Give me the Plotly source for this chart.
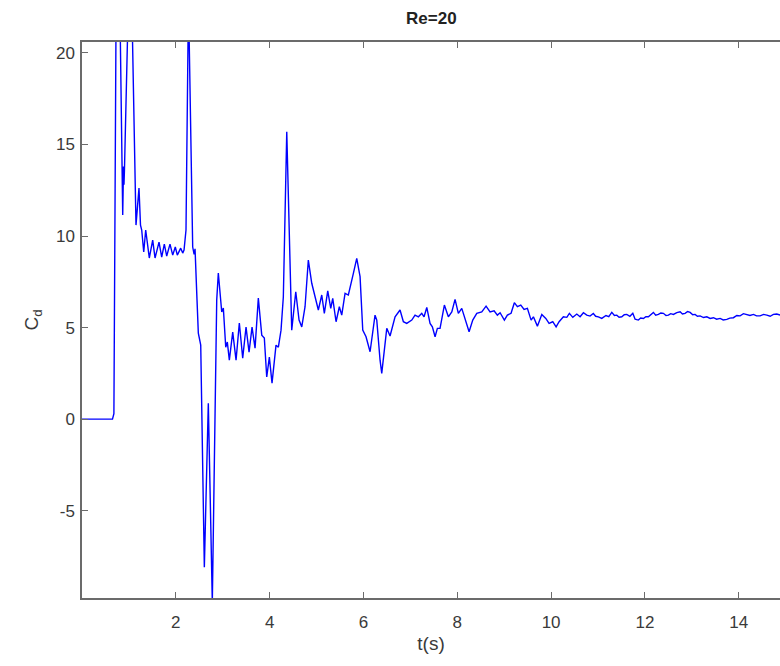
import plotly.graph_objects as go

# Time (s) and drag coefficient
t = [0.00, 0.65, 0.68, 0.73, 0.80, 0.868, 0.885, 0.895, 0.905, 0.99, 1.06,
     1.151, 1.215, 1.247, 1.273, 1.316, 1.358, 1.435, 1.507, 1.557, 1.642,
     1.699, 1.755, 1.806, 1.876, 1.934, 1.989, 2.032, 2.104, 2.147, 2.175,
     2.217, 2.27, 2.36, 2.39, 2.41, 2.452, 2.480, 2.531, 2.586, 2.608, 2.693,
     2.778, 2.872, 2.906, 2.979, 3.013, 3.064, 3.098, 3.141, 3.213, 3.284,
     3.354, 3.426, 3.497, 3.561, 3.625, 3.689, 3.759, 3.832, 3.887, 3.938,
     3.994, 4.051, 4.136, 4.186, 4.243, 4.292, 4.365, 4.471, 4.557, 4.627,
     4.685, 4.755, 4.825, 4.898, 4.968, 5.038, 5.111, 5.166, 5.239, 5.303,
     5.345, 5.416, 5.486, 5.537, 5.608, 5.678, 5.785, 5.857, 5.928, 5.985,
     6.055, 6.141, 6.247, 6.284, 6.354, 6.390, 6.497, 6.567, 6.674, 6.780,
     6.851, 6.923, 7.030, 7.100, 7.171, 7.243, 7.292, 7.350, 7.420, 7.469,
     7.527, 7.576, 7.633, 7.725, 7.810, 7.883, 7.953, 8.023, 8.096, 8.166,
     8.252, 8.330, 8.416, 8.522, 8.614, 8.699, 8.785, 8.855, 8.913, 9.004,
     9.068, 9.147, 9.217, 9.281, 9.354, 9.424, 9.495, 9.574, 9.623, 9.708,
     9.802, 9.887, 9.957, 10.036, 10.107, 10.171, 10.262, 10.335, 10.390,
     10.463, 10.548, 10.618, 10.689, 10.761, 10.83, 10.90, 10.95, 11.008,
     11.081, 11.17, 11.23, 11.294, 11.35, 11.401, 11.45, 11.507, 11.56,
     11.614, 11.68, 11.742, 11.791, 11.861, 11.91, 11.968, 12.02, 12.075,
     12.13, 12.181, 12.23, 12.288, 12.34, 12.394, 12.45, 12.501, 12.55,
     12.608, 12.68, 12.751, 12.80, 12.857, 12.91, 12.964, 13.02, 13.070,
     13.12, 13.177, 13.25, 13.320, 13.39, 13.461, 13.53, 13.604, 13.67,
     13.746, 13.81, 13.887, 13.96, 14.030, 14.10, 14.173, 14.24, 14.314,
     14.38, 14.456, 14.53, 14.599, 14.67, 14.740, 14.81, 14.883, 15.0]

cd = [0.00, 0.00, 0.30, 24.0, 24.0, 11.15, 13.8, 12.8, 13.6, 23.0, 23.0,
      10.60, 12.62, 10.60, 10.33, 9.13, 10.33, 8.80, 9.78, 8.80, 9.67,
      8.85, 9.56, 8.91, 9.56, 8.96, 9.40, 8.96, 9.34, 9.07, 9.23,
      10.33, 23.0, 9.40, 9.00, 9.30, 6.50, 4.70, 4.04, -6.23, -8.09, 0.87,
      -10.0, 6.50, 7.98, 5.85, 6.07, 3.93, 4.21, 3.22, 4.75, 3.22,
      5.25, 3.33, 5.03, 3.66, 5.03, 3.88, 6.61, 4.59, 4.43, 2.30,
      3.39, 1.97, 4.04, 3.93, 4.86, 6.67, 15.70, 4.86, 6.96, 5.41,
      5.04, 6.14, 8.69, 7.42, 6.68, 5.96, 6.78, 5.78, 7.01, 6.05,
      6.60, 5.32, 6.14, 5.68, 6.87, 6.78, 7.96, 8.78, 7.78, 4.86,
      4.50, 3.68, 5.68, 5.41, 3.22, 2.50, 4.96, 4.54, 5.59, 5.96,
      5.32, 5.23, 5.41, 5.68, 5.59, 5.78, 5.59, 6.10, 5.23, 5.04,
      4.50, 4.96, 4.96, 6.23, 5.59, 5.86, 6.54, 5.78, 6.05, 5.41,
      4.77, 5.41, 5.78, 5.86, 6.17, 5.86, 5.92, 5.68, 5.81, 5.41,
      5.68, 5.78, 6.36, 6.14, 6.23, 5.99, 6.05, 5.41, 5.59, 5.08,
      5.72, 5.50, 5.23, 5.32, 5.04, 5.32, 5.59, 5.56, 5.78,
      5.56, 5.74, 5.59, 5.81, 5.68, 5.63, 5.77, 5.62, 5.59,
      5.50, 5.66, 5.60, 5.83, 5.66, 5.68, 5.57, 5.59, 5.70,
      5.72, 5.62, 5.78, 5.46, 5.41, 5.52, 5.50, 5.60, 5.59,
      5.72, 5.83, 5.68, 5.72, 5.80, 5.78, 5.66, 5.68, 5.76,
      5.72, 5.82, 5.86, 5.74, 5.78, 5.88, 5.83, 5.70, 5.72,
      5.62, 5.64, 5.55, 5.59, 5.50, 5.54, 5.46, 5.50, 5.42,
      5.45, 5.52, 5.54, 5.66, 5.64, 5.76, 5.72, 5.66, 5.72,
      5.64, 5.64, 5.72, 5.68, 5.62, 5.72, 5.74, 5.68, 5.70]

x_ticks = [2, 4, 6, 8, 10, 12, 14]
y_ticks = [-5, 0, 5, 10, 15, 20]
y_labels = ["-5", "0", "5", "10", "15", "20"]

AXIS = "#6b6b6b"
TXT = "#3a3a3a"
FONT = "Liberation Sans, Arial, Helvetica, sans-serif"

fig = go.Figure(go.Scatter(x=t, y=cd, mode="lines",
                           line=dict(color="#0000ff", width=1.4),
                           showlegend=False, hoverinfo="skip"))

fig.update_layout(
    width=780, height=666,
    margin=dict(l=82, r=0, t=42, b=68),
    paper_bgcolor="white", plot_bgcolor="white",
    font=dict(family=FONT, size=17, color=TXT),
    title=dict(text="<b>Re=20</b>", x=0.553, xanchor="center",
               y=0.973, yanchor="middle",
               font=dict(family=FONT, size=17, color="#222222")),
)
fig.update_xaxes(
    range=[0, 14.88], tickvals=x_ticks, ticks="inside", ticklen=6,
    tickcolor=AXIS, tickwidth=1, showline=True, linecolor=AXIS, linewidth=1.5,
    mirror="ticks", showgrid=False, zeroline=False, ticklabelstandoff=8,
    title=dict(text="t(s)", font=dict(size=19, color=TXT), standoff=6),
    tickfont=dict(size=17, color=TXT),
)
fig.update_yaxes(
    range=[-9.77, 20.6], tickvals=y_ticks, ticktext=y_labels,
    ticks="inside", ticklen=6,
    tickcolor=AXIS, tickwidth=1, showline=True, linecolor=AXIS, linewidth=1.5,
    showgrid=False, zeroline=False, ticklabelstandoff=2,
    title=dict(text="C<sub>d</sub>", font=dict(size=19, color=TXT), standoff=12),
    tickfont=dict(size=17, color=TXT),
)

fig.write_html("out.html")
